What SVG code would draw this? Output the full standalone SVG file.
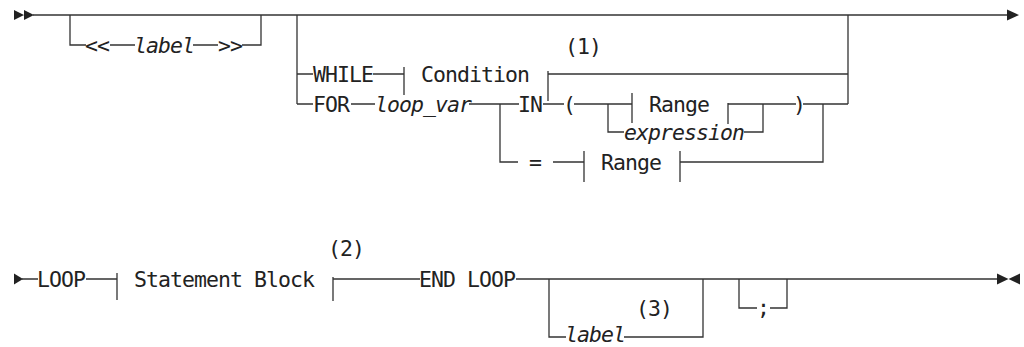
<svg xmlns="http://www.w3.org/2000/svg" width="1024" height="347" viewBox="0 0 1024 347">
<style>
.l{fill:none;stroke:#333;stroke-width:1.3}
.t{font-family:"DejaVu Sans Mono","Liberation Mono",monospace;font-size:21.5px;letter-spacing:-0.94px;fill:#222}
.i{font-style:italic}
.m{fill:#222}
</style>
<rect width="1024" height="347" fill="#fff"/>
<g id="connectors" class="l">
<path d="M33,15 H1007"/>
<path d="M70,15 V45 H86 M110,45 H135 M193,45 H218 M242,45 H261 V15"/>
<path d="M297,15 V104 M848,15 V104"/>
<path d="M297,74 H313 M373,74 H404 M548,74 H848"/>
<path d="M297,104 H313 M351,104 H375 M469,104 H519 M543,104 H564 M574,104 H632 M728,104 H796 M803,104 H848"/>
<path d="M608,104 V132 H624 M744,132 H763 V104"/>
<path d="M500,104 V162 H518 M553,162 H584 M680,162 H823 V104"/>
<path d="M22,279 H38 M86,279 H117 M333,279 H420 M516,279 H997"/>
<path d="M549,279 V337 H566 M624,337 H703 V279"/>
<path d="M739,279 V308 H757 M770,308 H787 V279"/>
</g>
<g id="start1"><path class="m" d="M14,10 L24,15 L14,20 Z M24,10 L34,15 L24,20 Z"/></g>
<g id="end1"><path class="m" d="M1007,9.5 L1019,15 L1007,20.5 Z"/></g>
<g id="start2"><path class="m" d="M14,273.5 L23,279 L14,284.5 Z"/></g>
<g id="end2"><path class="m" d="M997,273.5 L1008.5,279 L997,284.5 Z M1020,273.5 L1008.5,279 L1020,284.5 Z"/></g>
<g id="label-top"><text class="t" x="85" y="53">&lt;&lt;</text><text class="t i" x="134" y="53">label</text><text class="t" x="218" y="53">&gt;&gt;</text></g>
<g id="while"><text class="t" x="313" y="82">WHILE</text></g>
<g id="condition"><path class="l" d="M404,67 V95 M548,71 V101"/><text class="t" x="421" y="82">Condition</text></g>
<g id="note1"><text class="t" x="583" y="54" text-anchor="middle">(1)</text></g>
<g id="for"><text class="t" x="313" y="112">FOR</text></g>
<g id="loopvar"><text class="t i" x="375" y="112">loop_var</text></g>
<g id="in"><text class="t" x="518" y="112">IN</text></g>
<g id="lparen"><text class="t" x="563" y="112">(</text></g>
<g id="range1"><path class="l" d="M632,93 V123 M728,103 V124"/><text class="t" x="649" y="112">Range</text></g>
<g id="expression"><text class="t i" x="624" y="140">expression</text></g>
<g id="rparen"><text class="t" x="793" y="112">)</text></g>
<g id="eq"><text class="t" x="529" y="170">=</text></g>
<g id="range2"><path class="l" d="M584,151 V182 M680,151 V182"/><text class="t" x="601" y="170">Range</text></g>
<g id="loop"><text class="t" x="37" y="287">LOOP</text></g>
<g id="stmt"><path class="l" d="M117,273 V300 M333,277 V301"/><text class="t" x="134" y="287">Statement Block</text></g>
<g id="note2"><text class="t" x="346" y="256" text-anchor="middle">(2)</text></g>
<g id="endloop"><text class="t" x="419" y="287">END LOOP</text></g>
<g id="label-bot"><text class="t i" x="565" y="342">label</text></g>
<g id="note3"><text class="t" x="654" y="316" text-anchor="middle">(3)</text></g>
<g id="semi"><text class="t" x="757" y="315">;</text></g>
</svg>
